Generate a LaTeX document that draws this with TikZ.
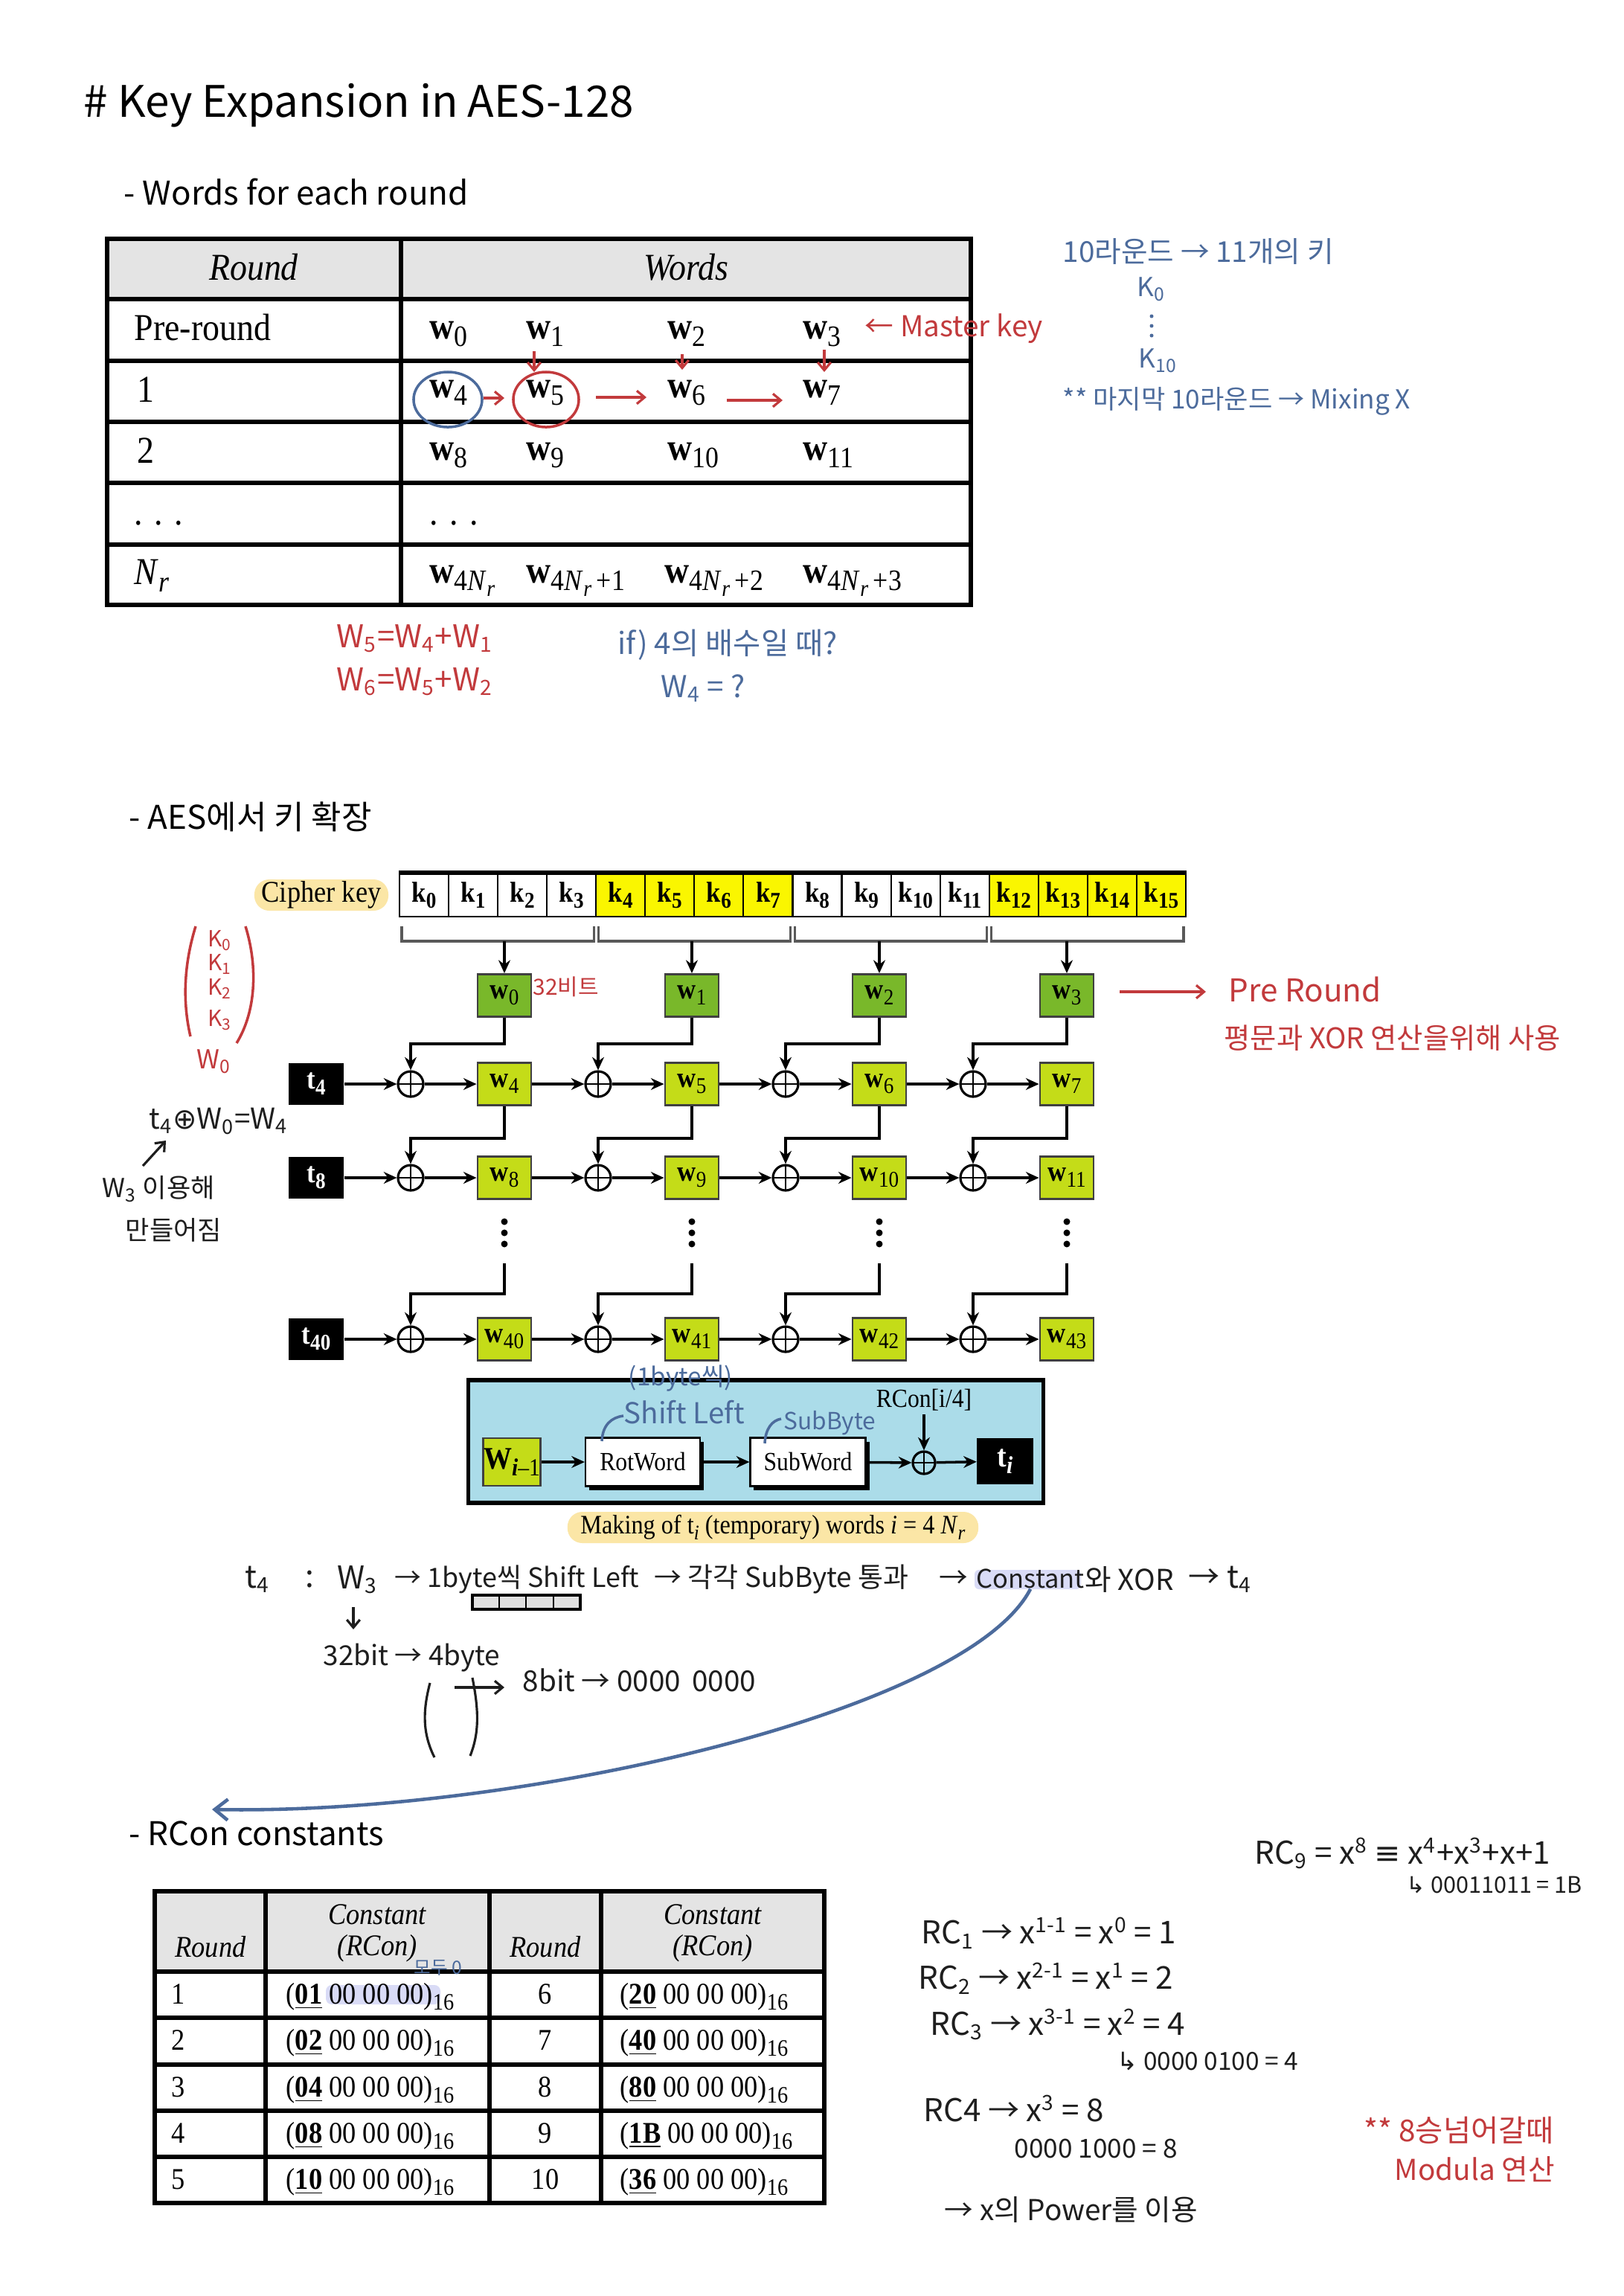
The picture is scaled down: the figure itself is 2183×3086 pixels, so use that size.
\documentclass[tikz,border=0pt]{standalone}
\usepackage{fontspec}
\setmainfont{Liberation Serif}[FakeStretch=0.9]
\newfontfamily\kr{Noto Sans CJK KR}
\newfontfamily\dv{DejaVu Sans}
\usetikzlibrary{arrows.meta,calc,shadows}
\definecolor{hblue}{HTML}{4C6B9C}
\definecolor{hred}{HTML}{C23A3C}
\definecolor{hblack}{HTML}{1E1E1E}
\definecolor{thead}{HTML}{E4E4E4}
\definecolor{pillc}{HTML}{FBE6A6}
\definecolor{kyel}{HTML}{FAF600}
\definecolor{wdark}{HTML}{79B82A}
\definecolor{wlime}{HTML}{C4DC18}
\definecolor{tcyan}{HTML}{ABDCE9}
\definecolor{lav}{HTML}{D9DBF6}
\newcommand\fz[1]{\fontsize{#1}{#1}\selectfont}
\newcommand\sbs[1]{\raisebox{-0.45ex}{\scalebox{0.78}{#1}}}
\newcommand\ww[1]{\textbf{w}\sbs{#1}}
\newcommand\kw[1]{\textbf{k}\sbs{\textbf{#1}}}
\newcommand\rcv[1]{(\underline{\textbf{#1}} 00 00 00)\sbs{16}}
\newcommand\hsub[1]{\textsubscript{#1}}
\newcommand\hsup[1]{\textsuperscript{#1}}
\begin{document}
\begin{tikzpicture}[x=0.01cm,y=-0.01cm,
  hw/.style={inner sep=0pt, anchor=west},
  hb/.style={hw, text=hblue, font=\kr\fz{11}},
  hr/.style={hw, text=hred, font=\kr\fz{11}},
  hk/.style={hw, text=hblack, font=\kr\fz{11}},
  head/.style={inner sep=0pt, anchor=base west, font=\kr\fz{12.5}},
  tt/.style={inner sep=0pt, anchor=base west, font=\fz{14.5}},
  rt/.style={inner sep=0pt, anchor=base west, font=\fz{11.5}},
  tline/.style={line width=1.5pt},
  wbox/.style={draw=black!75, line width=0.8pt, minimum width=0.72cm, minimum height=0.57cm, inner sep=0pt, font=\fz{11}},
  wd/.style={wbox, fill=wdark},
  wl/.style={wbox, fill=wlime},
  tb/.style={fill=black, text=white, minimum width=0.74cm, minimum height=0.56cm, inner sep=0pt, font=\fz{11}},
  xo/.style={circle, draw, line width=0.9pt, minimum size=0.34cm, inner sep=0pt,
    path picture={\draw[line width=0.7pt] (path picture bounding box.north) -- (path picture bounding box.south) (path picture bounding box.west) -- (path picture bounding box.east);}},
  arr/.style={line width=1pt, -{Stealth[length=5pt,width=4.5pt]}},
  kc/.style={draw, line width=0.6pt, minimum width=0.6606cm, minimum height=0.58cm, inner sep=0pt, font=\fz{11}},
  harr/.style={line width=0.9pt, -{Straight Barb[length=3pt,width=5pt]}},
]
\useasboundingbox[fill=white] (0,0) rectangle (2183,3086);

% ---------- headings
\node[head, font=\kr\fz{16.6}] (title) at (112,157) {\# Key Expansion in AES-128};
\node[head] (h1) at (166,275) {- Words for each round};
\node[head] (h2) at (173,1114) {- AES에서 키 확장};
\node[head] (h3) at (173,2480) {- RCon constants};

% ---------- table 1
\fill[thead] (144,321) rectangle (1305,402);
\foreach \yy in {402,485,567,649,732} \draw[tline] (144,\yy) -- (1305,\yy);
\draw[tline] (539,321) -- (539,813);
\draw[line width=1.8pt] (144,321) rectangle (1305,813);
\node[inner sep=0pt, anchor=base, font=\fz{14.5}\itshape] (thr) at (341,376) {Round};
\node[inner sep=0pt, anchor=base, font=\fz{14.5}\itshape] (thw) at (922,376) {Words};
\node[tt] (r0) at (180,457) {Pre-round};
\node[tt] (r1) at (184,540) {1};
\node[tt] (r2) at (184,622) {2};
\node[tt] (r3) at (180,705) {. . .};
\node[tt] (r4) at (180,785) {\textit{N}\sbs{\textit{r}}};
\foreach \n/\xx/\yy in {0/577/455,1/707/455,2/897/455,3/1079/455,4/577/534,5/707/534,6/897/534,7/1079/534,8/577/618,9/707/618,10/897/618,11/1079/618}
  \node[tt] (tw\n) at (\xx,\yy) {\ww{\n}};
\node[tt] (twd) at (577,705) {. . .};
\node[tt] (twn0) at (577,783) {\ww{4\textit{N}\sbs{\textit{r}}}};
\node[tt] (twn1) at (707,783) {\ww{4\textit{N}\sbs{\textit{r}}\,+1}};
\node[tt] (twn2) at (893,783) {\ww{4\textit{N}\sbs{\textit{r}}\,+2}};
\node[tt] (twn3) at (1079,783) {\ww{4\textit{N}\sbs{\textit{r}}\,+3}};

% annotations table 1
\draw[hblue, line width=1pt] (602,537) ellipse [x radius=0.46cm, y radius=0.37cm];
\draw[hred, line width=1pt] (734,537) ellipse [x radius=0.44cm, y radius=0.37cm];
\draw[hred, harr] (650,535) -- (678,535);
\draw[hred, harr] (801,534) -- (869,534);
\draw[hred, harr] (977,538) -- (1052,538);
\draw[hred, harr] (718,472) -- (718,500);
\draw[hred, harr] (917,476) -- (917,497);
\draw[hred, harr] (1108,470) -- (1108,500);
\node[hr] (mk) at (1162,442) {← Master key};
\node[hb] (ten) at (1428,338) {10라운드 → 11개의 키};
\node[hb, font=\kr\fz{10}] (kb0) at (1528,389) {K\hsub{0}};
\foreach \yy in {425,438,451} \fill[hblue] (1548,\yy) circle[radius=0.025cm];
\node[hb, font=\kr\fz{10}] (kb10) at (1530,485) {K\hsub{10}};
\node[hb, font=\kr\fz{10}] (mix) at (1428,539) {** 마지막 10라운드 → Mixing X};
\node[hr, font=\kr\fz{12}] (eq1) at (452,858) {W\hsub{5}=W\hsub{4}+W\hsub{1}};
\node[hr, font=\kr\fz{12}] (eq2) at (452,916) {W\hsub{6}=W\hsub{5}+W\hsub{2}};
\node[hb, font=\kr\fz{11.5}] (ifq) at (830,867) {if) 4의 배수일 때?};
\node[hb, font=\kr\fz{11.5}] (w4q) at (888,925) {W\hsub{4} = ?};

% ---------- key expansion diagram
\node[fill=pillc, rounded corners=0.2cm, minimum width=1.8cm, minimum height=0.42cm, inner sep=0pt, font=\fz{11.5}] (ck) at (432,1203) {Cipher key};
\foreach \i in {0,...,15}{
  \pgfmathsetmacro\kx{537+66.0625*\i+33.03}
  \pgfmathtruncatemacro\grp{mod(floor(\i/4),2)}
  \ifnum\grp=1 \def\kf{kyel}\else\def\kf{white}\fi
  \node[kc, fill=\kf] (k\i) at (\kx,1203) {\kw{\i}};
}
\draw[line width=1.6pt] (k0.north west) -- (k15.north east);
\foreach \g in {0,1,2,3}{
  \draw[black!65, line width=0.9pt] ({540+264.25*\g},1245) -- ({540+264.25*\g},1265) -- ({534+264.25*(\g+1)},1265) -- ({534+264.25*(\g+1)},1245);
}
\node[tb] (t4) at (425,1457) {\textbf{t}\sbs{\textbf{4}}};
\node[tb] (t8) at (425,1583) {\textbf{t}\sbs{\textbf{8}}};
\node[tb] (t40) at (425,1800) {\textbf{t}\sbs{\textbf{40}}};
\foreach \c/\cx/\xx/\a/\b/\d in {0/678/552/4/8/40, 1/930/804/5/9/41, 2/1182/1056/6/10/42, 3/1434/1308/7/11/43}{
  \node[wd] (w\c) at (\cx,1338) {\ww{\c}};
  \node[wl] (w\a) at (\cx,1457) {\ww{\a}};
  \node[wl] (w\b) at (\cx,1583) {\ww{\b}};
  \node[wl] (w\d) at (\cx,1800) {\ww{\d}};
  \node[xo] (xa\c) at (\xx,1457) {};
  \node[xo] (xb\c) at (\xx,1583) {};
  \node[xo] (xc\c) at (\xx,1800) {};
  \coordinate (br\c) at (\cx,1265);
  \coordinate (dd\c) at (\cx,1698);
  \draw[arr] (br\c) -- (w\c);
  \draw[arr] (w\c.south) -- ++(0,35) -| (xa\c.north);
  \draw[arr] (w\a.south) -- ++(0,43) -| (xb\c.north);
  \draw[arr] (dd\c) -- ++(0,41) -| (xc\c.north);
  \draw[arr] (xa\c) -- (w\a);
  \draw[arr] (xb\c) -- (w\b);
  \draw[arr] (xc\c) -- (w\d);
  \foreach \yy in {1642,1657,1672} \fill (\cx,\yy) circle[radius=0.045cm];
}
\draw[arr] (t4) -- (xa0); \draw[arr] (w4) -- (xa1); \draw[arr] (w5) -- (xa2); \draw[arr] (w6) -- (xa3);
\draw[arr] (t8) -- (xb0); \draw[arr] (w8) -- (xb1); \draw[arr] (w9) -- (xb2); \draw[arr] (w10) -- (xb3);
\draw[arr] (t40) -- (xc0); \draw[arr] (w40) -- (xc1); \draw[arr] (w41) -- (xc2); \draw[arr] (w42) -- (xc3);

% annotations of diagram
\node[hr, font=\kr\fz{8.5}] (b32) at (716,1326) {32비트};
\coordinate (pa) at (1505,1333);
\coordinate (pb) at (1621,1333);
\draw[hred, harr] (pa) -- (pb);
\node[hr, font=\kr\fz{12}] (prr) at (1651,1330) {Pre Round};
\node[hr, font=\kr\fz{10.9}] (pyung) at (1645,1395) {평문과 XOR 연산을위해 사용};
\draw[hred, line width=1pt] (263,1245) .. controls (246,1300) and (246,1350) .. (256,1393);
\draw[hred, line width=1pt] (330,1245) .. controls (347,1300) and (344,1360) .. (318,1402);
\node[hr, anchor=center, font=\kr\fz{8.5}] (rk0) at (296,1264) {K\hsub{0}};
\node[hr, anchor=center, font=\kr\fz{8.5}] (rk1) at (296,1296) {K\hsub{1}};
\node[hr, anchor=center, font=\kr\fz{8.5}] (rk2) at (296,1329) {K\hsub{2}};
\node[hr, anchor=center, font=\kr\fz{8.5}] (rk3) at (296,1371) {K\hsub{3}};
\node[hr, anchor=center, font=\kr\fz{10}] (rw0) at (288,1427) {W\hsub{0}};
\node[hk, font=\kr\fz{11}] (txor) at (200,1507) {t\hsub{4}{\dv ⊕}W\hsub{0}=W\hsub{4}};
\coordinate (ua) at (192,1567);
\coordinate (ub) at (223,1533);
\draw[hblack, harr] (ua) -- (ub);
\node[hk, font=\kr\fz{10}] (w3u) at (137,1598) {W\hsub{3} 이용해};
\node[hk, font=\kr\fz{10}] (made) at (168,1653) {만들어짐};

% ---------- making of t_i
\node[draw, line width=1.5pt, fill=tcyan, minimum width=7.72cm, minimum height=1.65cm, inner sep=0pt] (tbox) at (1016,1937.5) {};
\node[wbox, fill=wlime, minimum width=0.77cm, minimum height=0.64cm, font=\fz{12}] (wi) at (688,1965) {\textbf{W}\sbs{\textbf{\textit{i}}–1}};
\node[draw, fill=white, line width=0.6pt, minimum width=1.54cm, minimum height=0.65cm, inner sep=0pt, font=\fz{10}, drop shadow={shadow xshift=0.05cm, shadow yshift=-0.05cm, fill=black, opacity=1}] (rot) at (864,1965) {RotWord};
\node[draw, fill=white, line width=0.6pt, minimum width=1.55cm, minimum height=0.65cm, inner sep=0pt, font=\fz{10}, drop shadow={shadow xshift=0.05cm, shadow yshift=-0.05cm, fill=black, opacity=1}] (sub) at (1086,1965) {SubWord};
\node[xo, minimum size=0.3cm] (xr) at (1242,1966) {};
\node[tb, minimum width=0.75cm, minimum height=0.62cm, font=\fz{12}] (ti) at (1351,1964) {\textbf{t}\sbs{\textbf{\textit{i}}}};
\node[inner sep=1pt, font=\fz{10}] (rc) at (1242,1882) {RCon[i/4]};
\draw[arr] (wi) -- (rot);
\draw[arr] (rot) -- (sub);
\draw[arr] (sub) -- (xr);
\draw[arr] (xr) -- (ti);
\draw[arr] (rc) -- (xr);
\node[fill=pillc, rounded corners=0.2cm, minimum width=5.52cm, minimum height=0.42cm, inner sep=0pt, font=\fz{10.2}] (cap) at (1039,2053) {Making of t\sbs{\textit{i}} (temporary) words \textit{i} = 4 \textit{N}\sbs{\textit{r}}};
\node[hb, font=\kr\fz{9.5}] (onebyte) at (844,1853) {(1byte씩)};
\node[hb, font=\kr\fz{11}] (shl) at (838,1898) {Shift Left};
\node[hb, font=\kr\fz{9}] (sbb) at (1053,1913) {SubByte};
\draw[hblue, line width=1pt] (809,1937) .. controls (810,1915) and (822,1905) .. (838,1903);
\draw[hblue, line width=1pt] (1028,1940) .. controls (1029,1920) and (1038,1909) .. (1050,1907);

% ---------- handwritten explanation line
\fill[lav, rounded corners=0.06cm] (1310,2110) rectangle (1453,2136);
\node[hk, font=\kr\fz{12}] (l1) at (329,2123) {t\hsub{4}};
\node[hk, font=\kr\fz{12}] (l2) at (410,2123) {:};
\node[hk, font=\kr\fz{12}] (l3) at (453,2123) {W\hsub{3}};
\node[hk, font=\kr\fz{10.2}] (l4) at (530,2123) {→ 1byte씩 Shift Left};
\node[hk, font=\kr\fz{10.5}] (l5) at (879,2123) {→ 각각 SubByte 통과};
\node[hk] (l6) at (1262,2123) {→};
\node[hk, font=\kr\fz{9.8}] (cst) at (1312,2122) {Constant};
\node[hk] (l7) at (1458,2123) {와 XOR};
\node[hk, font=\kr\fz{12}] (l8) at (1597,2123) {→ t\hsub{4}};
\draw[line width=1pt, fill=black!12] (635,2144) rectangle (780,2163);
\foreach \xx in {671,707,744} \draw[line width=0.8pt] (\xx,2144) -- (\xx,2163);
\coordinate (da) at (475,2160);
\coordinate (db) at (475,2190);
\draw[hblack, harr] (da) -- (db);
\node[hk, font=\kr\fz{10.5}] (b4) at (434,2228) {32bit → 4byte};
\draw[hblack, line width=0.9pt] (578,2262) .. controls (568,2300) and (568,2330) .. (584,2362);
\draw[hblack, line width=0.9pt] (635,2255) .. controls (644,2300) and (644,2330) .. (632,2360);
\coordinate (ea) at (611,2268);
\coordinate (eb) at (678,2268);
\draw[hblack, harr] (ea) -- (eb);
\node[hk] (b8) at (702,2258) {8bit → 0000\, 0000};
\coordinate (rca) at (285,2432);
\draw[hblue, line width=1.3pt, -{Straight Barb[length=5pt,width=8pt]}] (cst.south) .. controls (1300,2300) and (700,2440) .. (rca);

% ---------- table 2 (RCon)
\fill[thead] (208,2542) rectangle (1108,2650);
\fill[lav, rounded corners=0.08cm] (438,2668) rectangle (592,2694);
\foreach \yy in {2650,2712,2775,2837,2899} \draw[tline] (208,\yy) -- (1108,\yy);
\foreach \xx in {357,658,808} \draw[tline] (\xx,2542) -- (\xx,2961);
\draw[line width=1.8pt] (208,2542) rectangle (1108,2961);
\node[rt, anchor=base, font=\fz{11.5}\itshape] (hr1) at (283,2630) {Round};
\node[rt, anchor=base, font=\fz{11.5}\itshape] (hc1) at (507,2586) {Constant};
\node[rt, anchor=base, font=\fz{11.5}\itshape] (hc1b) at (507,2628) {(RCon)};
\node[rt, anchor=base, font=\fz{11.5}\itshape] (hr2) at (733,2630) {Round};
\node[rt, anchor=base, font=\fz{11.5}\itshape] (hc2) at (958,2586) {Constant};
\node[rt, anchor=base, font=\fz{11.5}\itshape] (hc2b) at (958,2628) {(RCon)};
\foreach \r/\a/\b/\c/\yy in {1/01/6/20/2693, 2/02/7/40/2755, 3/04/8/80/2818, 4/08/9/1B/2880, 5/10/10/36/2942}{
  \node[rt] (ra\r) at (230,\yy) {\r};
  \node[rt] (rb\r) at (384,\yy) {\rcv{\a}};
  \node[rt, anchor=base] (rcc\r) at (733,\yy) {\b};
  \node[rt] (rd\r) at (833,\yy) {\rcv{\c}};
}
\node[hb, font=\kr\fz{7}] (modu) at (556,2645) {모두 0};

% ---------- right math notes
\node[hk, font=\kr\fz{12}] (m9) at (1686,2491) {RC\hsub{9} = x\hsup{8} {\dv ≡} x\hsup{4}+x\hsup{3}+x+1};
\node[hk, font=\kr\fz{8.7}] (m9b) at (1890,2533) {{\dv ↳} 00011011 = 1B};
\node[hk, font=\kr\fz{12}] (m1) at (1238,2598) {RC\hsub{1} → x\hsup{1-1} = x\hsup{0} = 1};
\node[hk, font=\kr\fz{12}] (m2) at (1234,2659) {RC\hsub{2} → x\hsup{2-1} = x\hsup{1} = 2};
\node[hk, font=\kr\fz{12}] (m3) at (1250,2721) {RC\hsub{3} → x\hsup{3-1} = x\hsup{2} = 4};
\node[hk, font=\kr\fz{9.5}] (m3b) at (1501,2771) {{\dv ↳} 0000 0100 = 4};
\node[hk, font=\kr\fz{12}] (m4) at (1241,2834) {RC4 → x\hsup{3} = 8};
\node[hk, font=\kr\fz{10}] (m4b) at (1363,2888) {0000 1000 = 8};
\node[hk, font=\kr\fz{11}] (mpw) at (1269,2970) {→ x의 Power를 이용};
\node[hr, font=\kr\fz{11.5}] (m8) at (1833,2863) {** 8승넘어갈때};
\node[hr, font=\kr\fz{11}] (mmod) at (1874,2916) {Modula 연산};
\end{tikzpicture}
\end{document}
